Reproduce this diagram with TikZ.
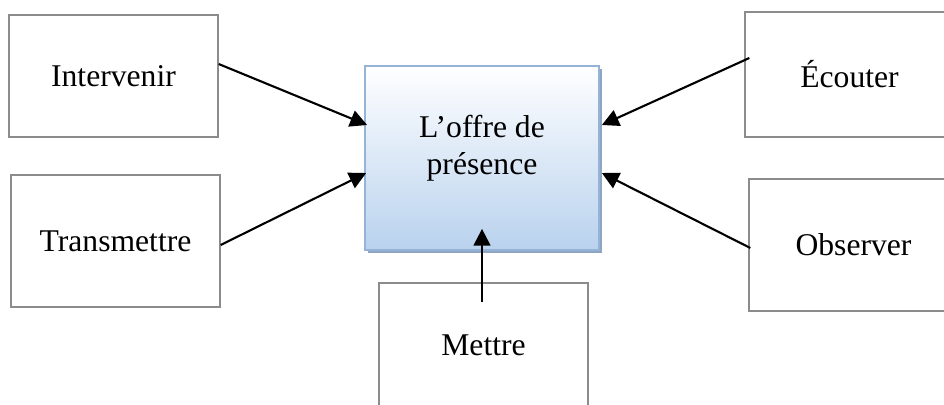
\documentclass[tikz,border=0pt]{standalone}
\usepackage{fontspec}
\setmainfont{Liberation Serif}
\usetikzlibrary{calc}
\usetikzlibrary{positioning}
\usetikzlibrary{arrows.meta}
\usetikzlibrary{shadows}
\definecolor{boxgray}{HTML}{8C8C8C}
\definecolor{offreborder}{HTML}{95B3D7}
\definecolor{offreblue}{HTML}{B9D2EE}
\definecolor{offreshadow}{HTML}{8FA6C2}
\tikzset{
  action/.style={draw=boxgray, line width=0.9pt, minimum width=5.225cm, inner sep=0pt},
  fleche/.style={-{Triangle[length=12pt,width=12pt]}, line width=1.5pt},
  every node/.style={font=\fontsize{22.5}{26.3}\selectfont}
}

\begin{document}
\begin{tikzpicture}[x=0.025cm, y=-0.025cm]
  \useasboundingbox (0,0) rectangle (944,405);

  \node [action, minimum height=3.05cm] (interv) at (113.5,76) {Intervenir};
  \node [action, minimum height=3.3cm] (transm) at (115.5,241) {Transmettre};
  \node [action, minimum height=3.125cm] (ecout) at (849.5,74.5) {Écouter};
  \node [action, minimum height=3.3cm] (obs) at (853.5,245) {Observer};
  \node [action, minimum height=3.1cm] (mettre) at (483.5,345) {Mettre};

  \node [draw=offreborder, line width=1.2pt, top color=white, bottom color=offreblue,
         minimum width=5.85cm, minimum height=4.6cm,
         general shadow={fill=offreshadow, shadow xshift=0.075cm, shadow yshift=-0.075cm}]
         (offre) at (482,158) {};
  \node [align=center, inner sep=0pt] (offretxt) at (482,148) {L’offre de\\présence};

  \draw [fleche] ($(interv.east)+(0,-12)$) -- ($(offre.west)+(3,-33)$);
  \draw [fleche] ($(transm.east)+(0,4)$) -- ($(offre.west)+(2,15)$);
  \draw [fleche] ($(ecout.west)+(5,-16.5)$) -- ($(offre.east)+(2,-33)$);
  \draw [fleche] ($(obs.west)+(2,3)$) -- ($(offre.east)+(2,15)$);
  \draw [fleche] ($(mettre.north)+(-1.5,20)$) -- ($(offre.south)+(0,-22)$);

\end{tikzpicture}
\end{document}
